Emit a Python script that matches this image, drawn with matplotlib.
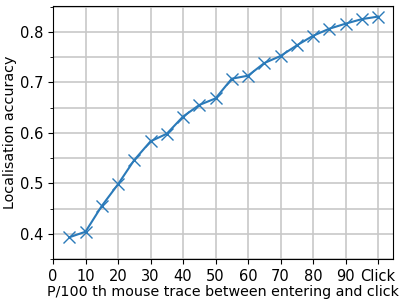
import matplotlib
matplotlib.use("Agg")
import matplotlib.pyplot as plt
from matplotlib.ticker import MultipleLocator

x_vals = [5, 10, 15, 20, 25, 30, 35, 40, 45, 50, 55, 60, 65, 70, 75, 80, 85, 90, 95, 100]
accuracy = [0.393, 0.404, 0.455, 0.498, 0.546, 0.583, 0.598, 0.632, 0.655, 0.668,
            0.707, 0.713, 0.738, 0.752, 0.773, 0.792, 0.806, 0.816, 0.825, 0.830]
xtick_pos = [0, 10, 20, 30, 40, 50, 60, 70, 80, 90, 100]
xtick_labels = ["0", "10", "20", "30", "40", "50", "60", "70", "80", "90", "Click"]

fig = plt.figure(figsize=(4.07, 3.05), dpi=100)
ax = fig.add_axes([53/407, 46/305, 340/407, 253/305])
ax.plot(x_vals, accuracy, marker="x", markersize=8.5, color="#2a7ab9", linewidth=1.5)
ax.set_xlim(0, 104.6)
ax.set_ylim(0.35, 0.851)
ax.set_xticks(xtick_pos)
ax.set_xticklabels(xtick_labels)
ax.yaxis.set_major_locator(MultipleLocator(0.1))
ax.yaxis.set_minor_locator(MultipleLocator(0.05))
ax.grid(True, which="both", color="#c8c8c8", linewidth=1.2)
ax.set_axisbelow(True)
ax.tick_params(labelsize=10.5)
ax.set_xlabel("P/100 th mouse trace between entering and click", fontsize=10.3, labelpad=1)
ax.set_ylabel("Localisation accuracy", fontsize=10.3, labelpad=2)
fig.savefig("out.png", dpi=100)
